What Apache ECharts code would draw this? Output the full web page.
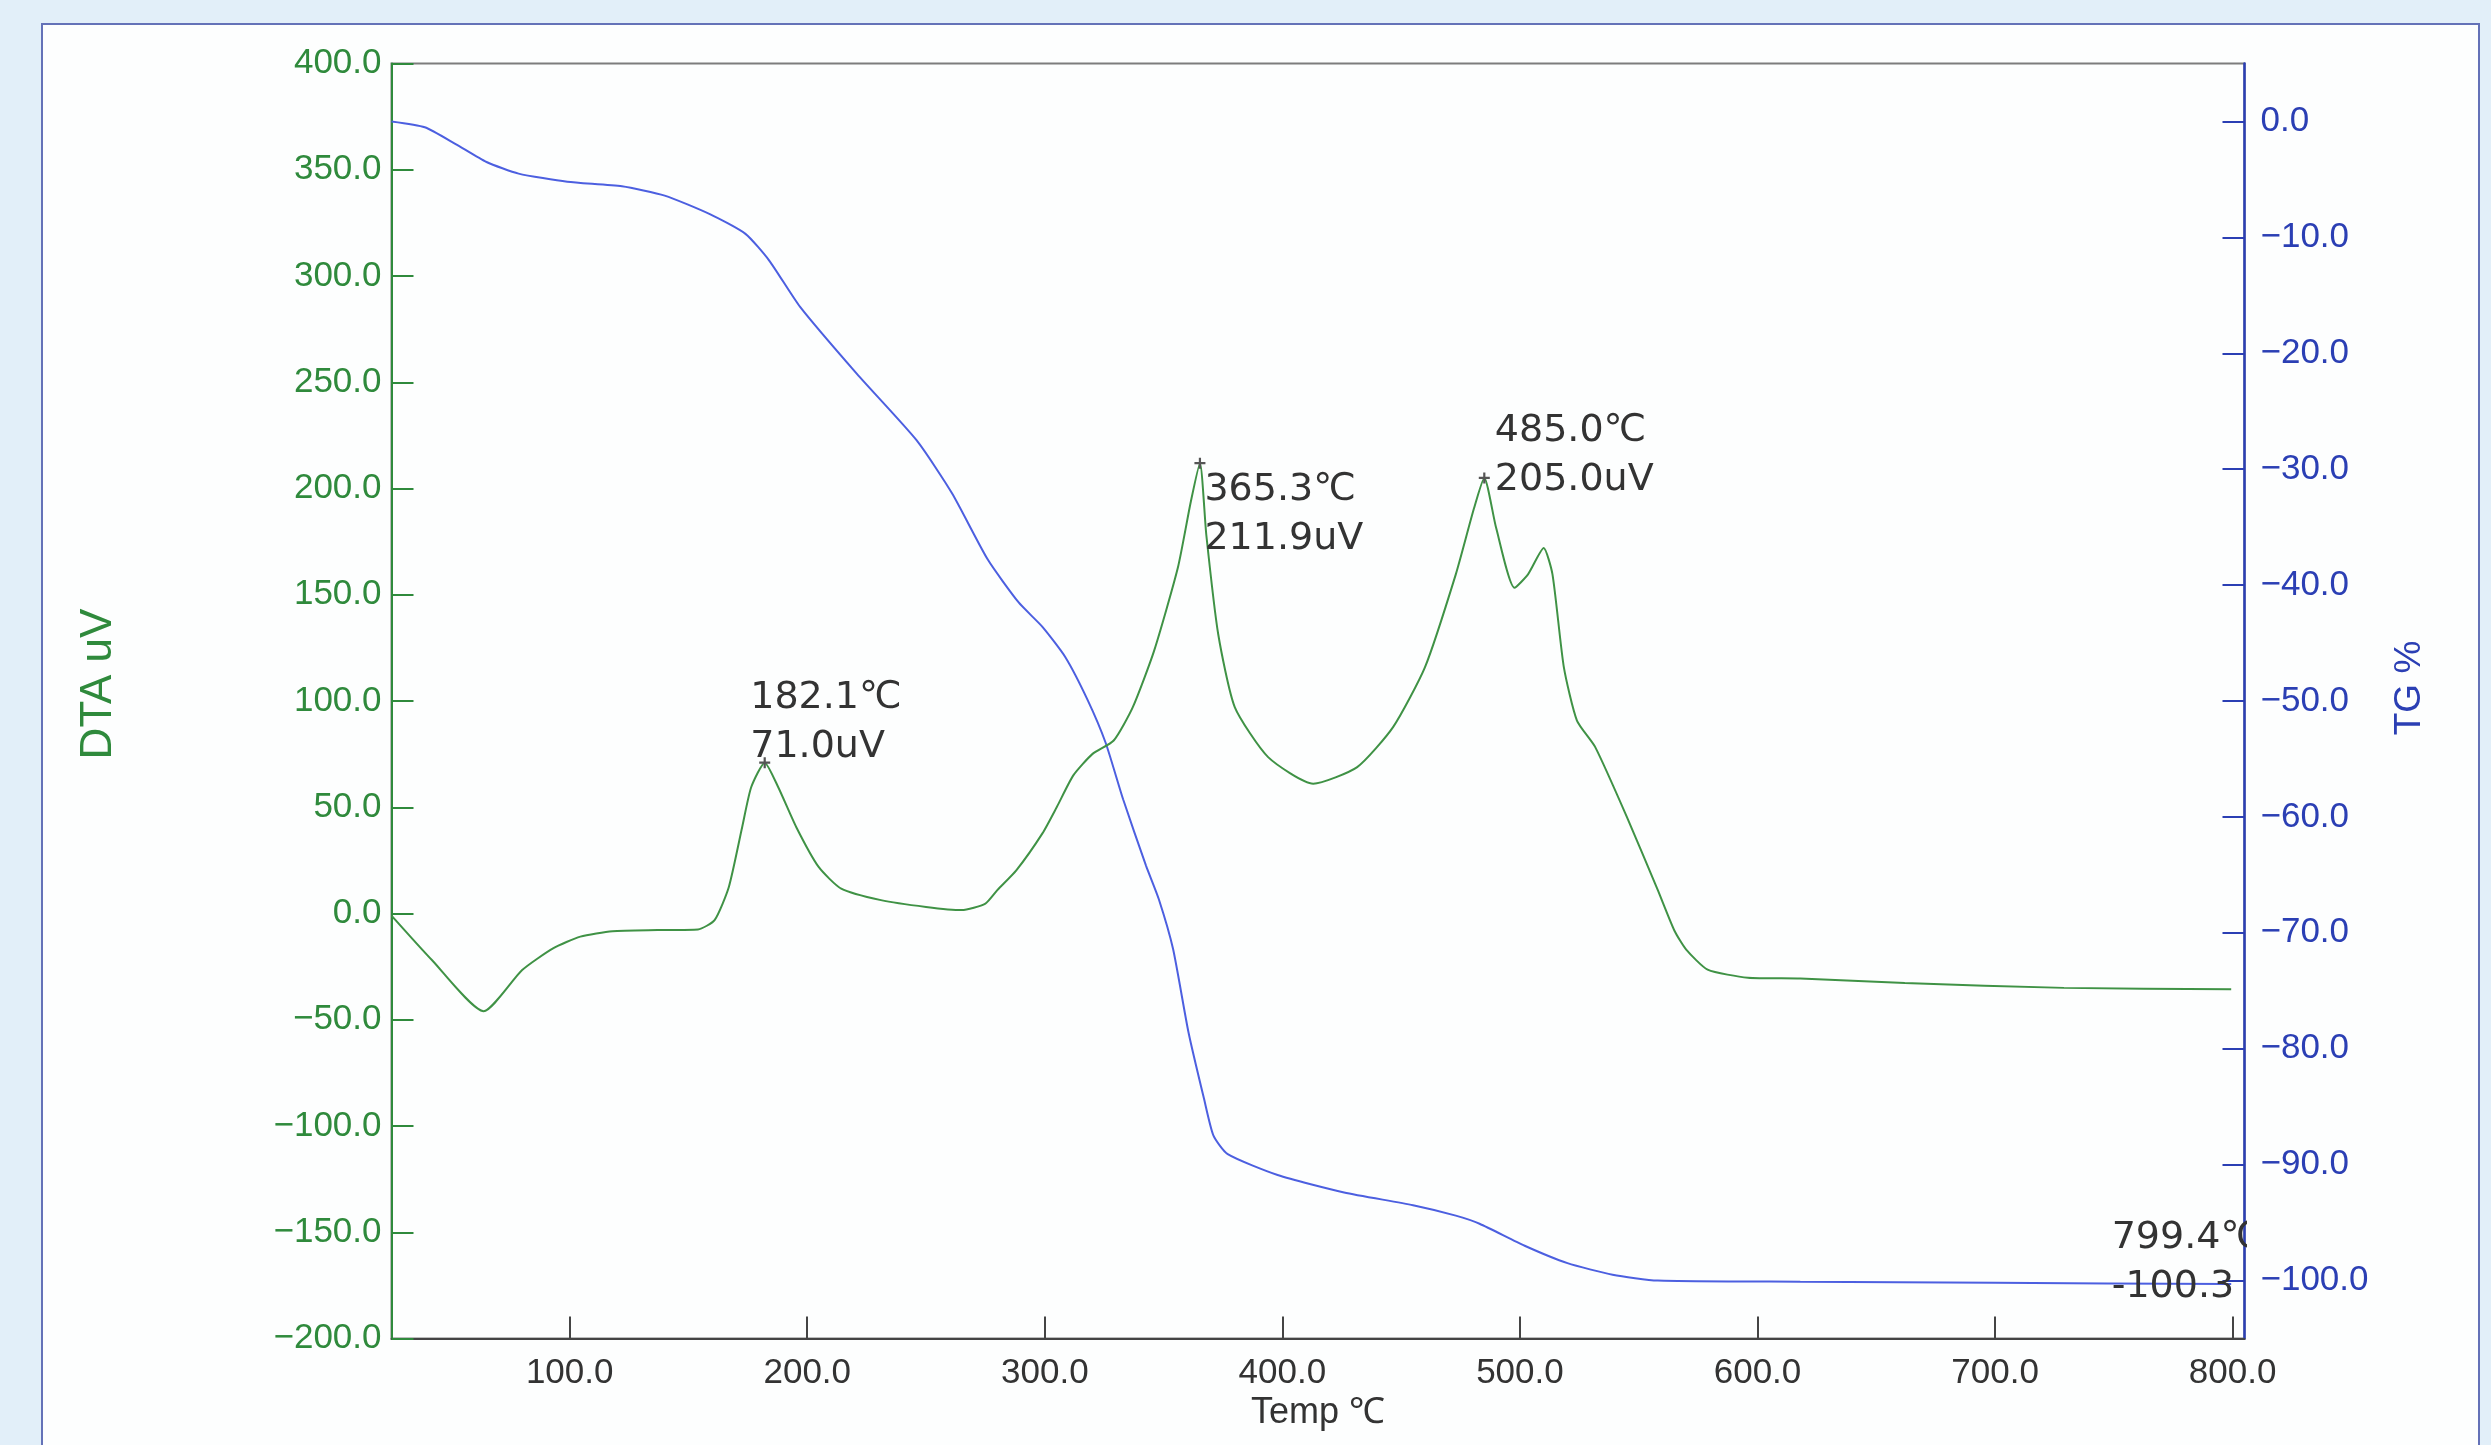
<!DOCTYPE html>
<html>
<head>
<meta charset="utf-8">
<title>DTA / TG</title>
<script src="https://cdn.jsdelivr.net/npm/echarts@6/dist/echarts.min.js"></script>
<style>
  html, body { margin: 0; padding: 0; background: #e2eff9; }
  #chart { width: 2491px; height: 1445px; }
</style>
</head>
<body>
<div id="chart"></div>
<script>
// DTA curve (temperature in ℃, signal in uV)
const dtaTemp = [25, 42, 63.8, 80, 93, 104.5, 118, 137, 154, 161, 167, 172.6, 176.4, 182.1, 187.8, 195.4, 204.8, 214.3, 231, 250, 265, 275, 280, 288, 299, 305, 312, 320, 329, 337, 346, 356, 361.5, 365.3, 368, 373, 380, 394, 413, 431.5, 446.6, 460, 473, 480.7, 485, 490, 497.7, 503.4, 510, 513.7, 518.5, 524, 531.7, 545, 558, 565, 570, 579, 596, 618, 662, 729, 799.4]
const dtaValue = [-1, -21.9, -46, -26.6, -16.4, -10.9, -8.3, -7.8, -7.5, -3.1, 12.5, 40.6, 59.4, 71.0, 59.4, 40.6, 21.9, 11.7, 6.3, 3.1, 1.6, 4.7, 11, 20.3, 37.7, 50, 65, 75, 81.4, 97, 123.6, 162.7, 194, 211.9, 178, 131.4, 97, 73.6, 61.1, 68.9, 87.7, 115.8, 159.6, 190.8, 205.0, 181.4, 153.3, 159.6, 172, 159.6, 115.8, 90.8, 78.3, 45.5, 11.1, -8, -17, -26.4, -30.2, -30.6, -32.7, -35, -35.6]

// TG curve (temperature in ℃, mass change in %)
const tgTemp = [25, 39, 52, 65, 78.5, 99, 122, 140, 159, 174, 184, 197, 221, 246, 261, 276, 289, 299, 308.6, 318, 325.6, 333, 342.6, 348, 354, 360.5, 367, 371, 377, 398, 426, 455, 473, 483, 502, 520, 539, 558, 618, 700, 799.4]
const tgValue = [0, -0.5, -1.95, -3.5, -4.5, -5.2, -5.6, -6.4, -8, -9.7, -12, -16, -21.8, -27.5, -32.1, -37.8, -41.5, -43.6, -46.2, -49.9, -53.6, -58.5, -64.2, -67.1, -71.4, -78.6, -84.3, -87.5, -89.1, -90.9, -92.4, -93.5, -94.4, -95.1, -97, -98.5, -99.5, -100, -100.1, -100.2, -100.3]

// peak annotations
const dtaPeaks = [[182.1, 71.0], [365.3, 211.9], [485.0, 205.0]]
const tgEnd = [799.4, -100.3]

const xTicks = [100, 200, 300, 400, 500, 600, 700, 800]
const tgTicks = [-100, -90, -80, -70, -60, -50, -40, -30, -20, -10, 0]

const GREEN = '#2f8a3c'
const GREEN_LINE = '#3f9245'
const BLUE = '#2b3fb4'
const BLUE_LINE = '#4c5fe0'
const TEXT = '#333333'

const fmt = (v) => (v < 0 ? '\u2212' + Math.abs(v).toFixed(1) : v.toFixed(1))

const chart = echarts.init(document.getElementById('chart'))

// label offsets (px) from each peak marker
const peakLabelPos = [[-9, -34.5], [10, 57], [16, -16.5]]

const option = {
  backgroundColor: 'transparent',
  animation: false,
  graphic: [
    {
      type: 'rect',
      z: -10,
      shape: { x: 42, y: 24, width: 2437, height: 1440 },
      style: { fill: '#fdfefe', stroke: '#6472b8', lineWidth: 2 }
    },
    {
      // hides the part of the end label that runs past the right axis
      type: 'rect',
      z: 100,
      shape: { x: 2247, y: 1195, width: 40, height: 60 },
      style: { fill: '#fdfefe' }
    }
  ],
  grid: {
    left: 391.5,
    top: 63.5,
    width: 1853,
    height: 1275,
    show: true,
    borderColor: '#7d7d7d',
    borderWidth: 2,
    backgroundColor: 'transparent'
  },
  xAxis: {
    type: 'value',
    min: 25,
    max: 805,
    name: 'Temp \u2103',
    nameLocation: 'middle',
    nameGap: 51,
    nameTextStyle: { color: TEXT, fontSize: 36, fontFamily: 'Liberation Sans' },
    axisLine: { onZero: false, lineStyle: { color: '#444', width: 2 } },
    axisTick: { inside: true, length: 22, customValues: xTicks, lineStyle: { color: '#444', width: 2 } },
    axisLabel: {
      customValues: xTicks,
      margin: 17,
      color: TEXT,
      fontSize: 35,
      fontFamily: 'Liberation Sans',
      formatter: (v) => v.toFixed(1)
    },
    splitLine: { show: false }
  },
  yAxis: [
    {
      type: 'value',
      min: -200,
      max: 400,
      interval: 50,
      position: 'left',
      name: 'DTA uV',
      nameLocation: 'middle',
      nameRotate: 90,
      nameGap: 271,
      nameTextStyle: { color: GREEN, fontSize: 44, fontFamily: 'Liberation Sans', padding: [0, 0, 0, 34] },
      axisLine: { show: true, onZero: false, lineStyle: { color: GREEN, width: 2 } },
      axisTick: { show: true, inside: true, length: 22, lineStyle: { color: GREEN, width: 2 } },
      axisLabel: { margin: 10, color: GREEN, fontSize: 35, fontFamily: 'Liberation Sans', formatter: fmt },
      splitLine: { show: false }
    },
    {
      type: 'value',
      min: -105,
      max: 5,
      position: 'right',
      name: 'TG %',
      nameLocation: 'middle',
      nameRotate: 90,
      nameGap: 147,
      nameTextStyle: { color: BLUE, fontSize: 37, fontFamily: 'Liberation Sans', padding: [0, 0, 0, 26] },
      axisLine: { show: true, onZero: false, lineStyle: { color: BLUE, width: 2.5 } },
      axisTick: { show: true, inside: true, length: 22, customValues: tgTicks, lineStyle: { color: BLUE, width: 2 } },
      axisLabel: { customValues: tgTicks, margin: 16, color: BLUE, fontSize: 35, fontFamily: 'Liberation Sans', formatter: fmt },
      splitLine: { show: false }
    }
  ],
  series: [
    {
      name: 'DTA',
      type: 'line',
      yAxisIndex: 0,
      data: dtaTemp.map((t, i) => [t, dtaValue[i]]),
      showSymbol: false,
      smooth: 0.2,
      lineStyle: { color: GREEN_LINE, width: 2 },
      z: 3,
      markPoint: {
        symbol: 'path://M4,0H6V4H10V6H6V10H4V6H0V4H4Z',
        symbolSize: 11,
        itemStyle: { color: '#555' },
        label: {
          show: true,
          color: TEXT,
          fontSize: 38,
          fontFamily: 'DejaVu Sans',
          lineHeight: 49,
          align: 'left',
          verticalAlign: 'middle'
        },
        data: dtaPeaks.map((p, i) => ({
          coord: p,
          label: {
            position: peakLabelPos[i],
            formatter: p[0].toFixed(1) + '\u2103\n' + p[1].toFixed(1) + 'uV'
          }
        }))
      }
    },
    {
      name: 'TG',
      type: 'line',
      yAxisIndex: 1,
      data: tgTemp.map((t, i) => [t, tgValue[i]]),
      showSymbol: false,
      smooth: 0.2,
      lineStyle: { color: BLUE_LINE, width: 2 },
      z: 2,
      markPoint: {
        symbol: 'circle',
        symbolSize: 1,
        itemStyle: { color: 'transparent' },
        label: {
          show: true,
          color: TEXT,
          fontSize: 38,
          fontFamily: 'DejaVu Sans',
          lineHeight: 49,
          align: 'left',
          verticalAlign: 'middle',
          position: [-119, -21]
        },
        data: [{
          coord: tgEnd,
          label: { formatter: tgEnd[0].toFixed(1) + '\u2103\n' + tgEnd[1].toFixed(1) }
        }]
      }
    }
  ]
}

chart.setOption(option)
</script>
</body>
</html>
